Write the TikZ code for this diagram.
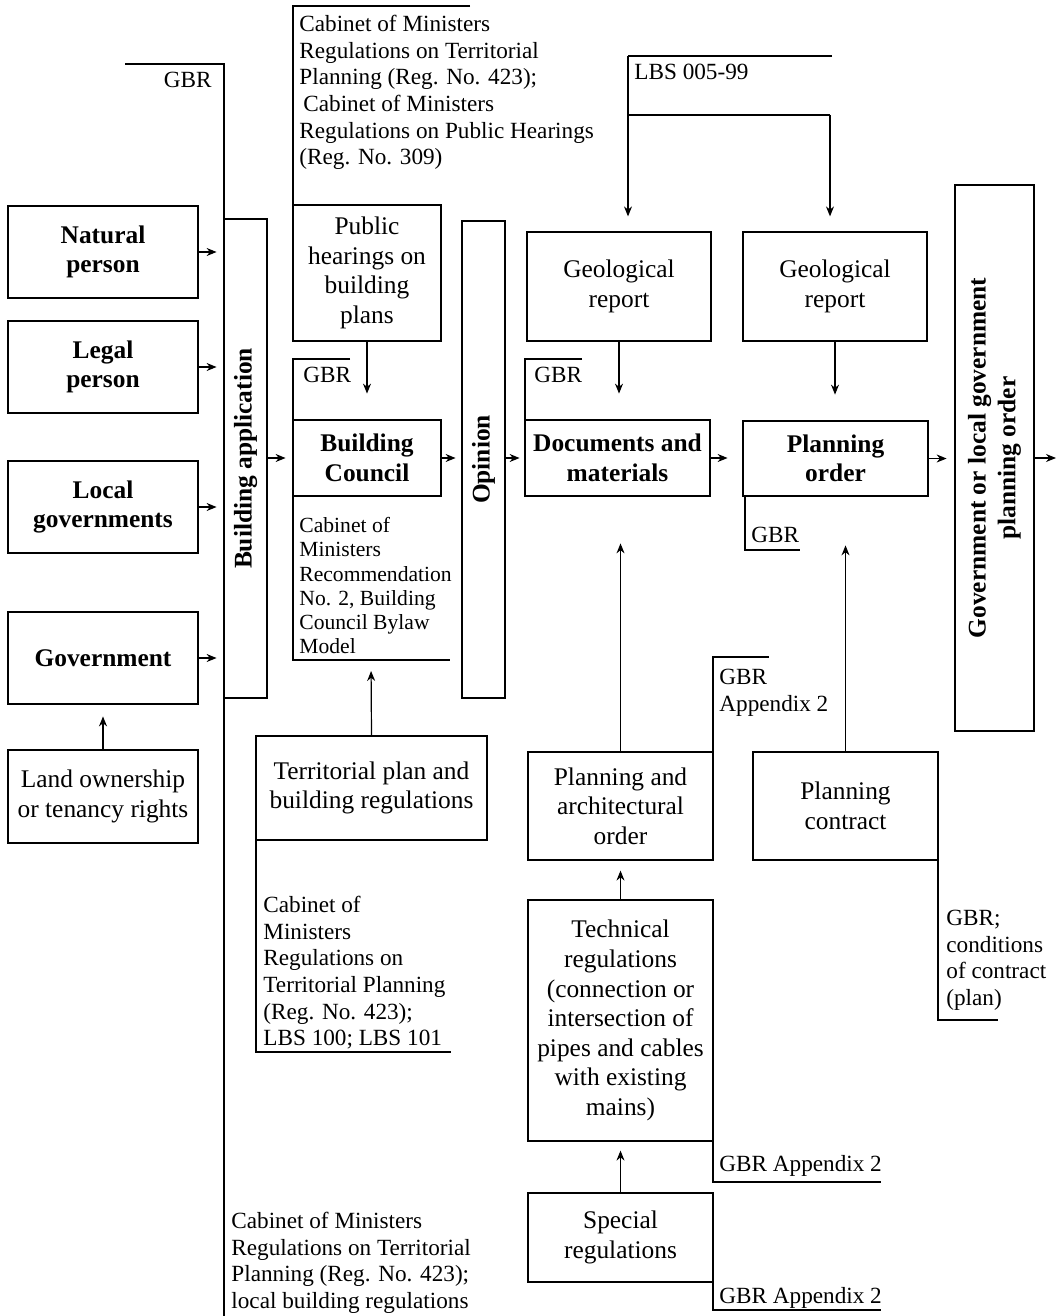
\documentclass[tikz,border=0pt]{standalone}
\usepackage{fontspec}
\setmainfont{Liberation Serif}
\usetikzlibrary{arrows.meta}
\begin{document}
\begin{tikzpicture}[x=0.5pt,y=-0.5pt,
  boxtext/.style={font=\fontsize{12.7}{14.8}\selectfont, align=center},
  thickbox/.style={draw, line width=1.4pt, inner sep=0pt, boxtext, font=\fontsize{12.7}{14.8}\selectfont\bfseries},
  thinbox/.style={draw, line width=0.6pt, inner sep=0pt, boxtext},
  note/.style={font=\fontsize{11.6}{13.3}\selectfont, align=left, inner sep=0pt, anchor=north west},
  rule/.style={line width=0.6pt},
  arr/.style={line width=0.6pt, -{Stealth[length=5pt,width=4pt]}}
]
\useasboundingbox (0,0) rectangle (1063,1316);

% left column
\node[thickbox, minimum width=95pt, minimum height=46pt] (nat) at (103,252) {Natural\\person};
\node[thickbox, minimum width=95pt, minimum height=46pt] (leg) at (103,367) {Legal\\person};
\node[thickbox, minimum width=95pt, minimum height=46pt] (loc) at (103,507) {Local\\governments};
\node[thickbox, minimum width=95pt, minimum height=46pt] (gov) at (103,658) {Government};
\node[thickbox, font=\fontsize{12.7}{14.8}\selectfont, minimum width=95pt, minimum height=46.5pt] (land) at (103,796.5) {Land ownership\\or tenancy rights};

% building application
\node[thickbox, minimum width=21.5pt, minimum height=239.5pt] (app) at (245.5,458.5) {};
\node[rotate=90, font=\fontsize{12.7}{14.8}\selectfont\bfseries, inner sep=0pt] (apptext) at (app.center) {Building application};

% building council column
\node[thinbox, minimum width=74pt, minimum height=68pt] (pub) at (367,273) {Public\\hearings on\\building\\plans};
\node[thickbox, minimum width=74pt, minimum height=38pt] (bc) at (367,458) {Building\\Council};

% opinion
\node[thickbox, minimum width=21.5pt, minimum height=238.5pt] (op) at (483.5,459.5) {};
\node[rotate=90, font=\fontsize{12.7}{14.8}\selectfont\bfseries, inner sep=0pt] (optext) at (op.center) {Opinion};

% territorial plan
\node[thinbox, minimum width=115.5pt, minimum height=52pt] (ter) at (371.5,788) {Territorial plan and\\building regulations};

% documents column
\node[thinbox, minimum width=92pt, minimum height=54.5pt] (geo1) at (619,286.5) {Geological\\report};
\node[thickbox, minimum width=92.5pt, minimum height=38pt] (doc) at (617.5,458) {Documents and\\materials};
\node[thinbox, minimum width=92.5pt, minimum height=54pt] (pao) at (620.5,806) {Planning and\\architectural\\order};
\node[thinbox, minimum width=92.5pt, minimum height=120.5pt] (tech) at (620.5,1020.5) {Technical\\regulations\\(connection or\\intersection of\\pipes and cables\\with existing\\mains)};
\node[thinbox, minimum width=92.5pt, minimum height=44.5pt] (spec) at (620.5,1237.5) {Special\\regulations};

% planning order column
\node[thinbox, minimum width=92pt, minimum height=54.5pt] (geo2) at (835,286.5) {Geological\\report};
\node[thickbox, minimum width=92.5pt, minimum height=37.5pt] (po) at (835.5,458.5) {Planning\\order};
\node[thinbox, minimum width=92.5pt, minimum height=54pt] (pc) at (845.5,806) {Planning\\contract};

% final box
\node[thickbox, minimum width=39.5pt, minimum height=273pt] (gvt) at (994.5,458) {};
\node[rotate=90, font=\fontsize{12.7}{14.8}\selectfont\bfseries, align=center, inner sep=0pt] (gvttext) at (gvt.center) {Government or local government\\planning order};

% coordinates
\coordinate (out) at (1056,458);
\coordinate (gbrA) at (125,64);
\coordinate (gbrB) at (224,64);
\coordinate (gbrC) at (224,1316);
\coordinate (cabA) at (470,6);
\coordinate (cabB) at (293,6);
\coordinate (bcgA) at (350,359);
\coordinate (bcgB) at (293,359);
\coordinate (bcnA) at (293,660);
\coordinate (bcnB) at (450,660);
\coordinate (bcnM) at (371,660);
\coordinate (docgA) at (582,359);
\coordinate (docgB) at (525,359);
\coordinate (lbsA) at (832,56);
\coordinate (lbsB) at (628,56);
\coordinate (lbsC) at (628,115);
\coordinate (lbsD) at (830,115);
\coordinate (pogA) at (745,550);
\coordinate (pogB) at (800,550);
\coordinate (paogA) at (713,657);
\coordinate (paogB) at (769,657);
\coordinate (pcnA) at (938,1020);
\coordinate (pcnB) at (998,1020);
\coordinate (tergA) at (256,1052);
\coordinate (tergB) at (451,1052);
\coordinate (techgA) at (713,1182);
\coordinate (techgB) at (881,1182);
\coordinate (specgA) at (713,1310);
\coordinate (specgB) at (881,1310);

% arrows
\foreach \n in {nat,leg,loc,gov}
  \draw[arr, shorten >=3pt] (\n.east) -- (\n.east -| app.west);
\draw[arr, shorten >=5.5pt] (land.north) -- (gov.south);
\draw[arr, shorten >=3pt] (app.east |- bc.west) -- (bc.west);
\draw[arr, shorten >=12.5pt] (pub.south) -- (bc.north);
\draw[arr, shorten >=2.5pt] (bc.east) -- (bc.east -| op.west);
\draw[arr, shorten >=2pt] (op.east |- doc.west) -- (doc.west);
\draw[arr, shorten >=12.5pt] (geo1.south) -- (geo1.south |- doc.north);
\draw[arr, shorten >=12.5pt] (geo2.south) -- (geo2.south |- po.north);
\draw[arr, shorten >=7pt] (doc.east) -- (doc.east -| po.west);
\draw[arr, shorten >=3.5pt] (po.east) -- (po.east -| gvt.west);
\draw[arr] (gvt.east |- out) -- (out);
\draw[arr, shorten >=5.5pt] (ter.north) -- (bcnM);
\draw[arr, shorten >=23pt] (pao.north) -- (pao.north |- doc.south);
\draw[arr, shorten >=24pt] (pc.north) -- (pc.north |- po.south);
\draw[arr, shorten >=5pt] (tech.north) -- (pao.south);
\draw[arr, shorten >=4.5pt] (spec.north) -- (tech.south);
\draw[rule] (lbsA) -- (lbsB);
\draw[arr, shorten >=7.5pt] (lbsB) -- (lbsB |- geo1.north);
\draw[rule] (lbsC) -- (lbsD);
\draw[arr, shorten >=7.5pt] (lbsD) -- (lbsD |- geo2.north);

% brackets
\draw[rule] (gbrA) -- (gbrB) -- (gbrC);
\draw[rule] (cabA) -- (cabB) -- (cabB |- pub.north);
\draw[rule] (bcgA) -- (bcgB) -- (bcgB |- bc.north);
\draw[rule] (bcnA |- bc.south) -- (bcnA) -- (bcnB);
\draw[rule] (docgA) -- (docgB) -- (docgB |- doc.north);
\draw[rule] (pogA |- po.south) -- (pogA) -- (pogB);
\draw[rule] (paogA |- pao.north) -- (paogA) -- (paogB);
\draw[rule] (pcnA |- pc.south) -- (pcnA) -- (pcnB);
\draw[rule] (tergA |- ter.south) -- (tergA) -- (tergB);
\draw[rule] (techgA |- tech.south) -- (techgA) -- (techgB);
\draw[rule] (specgA |- spec.south) -- (specgA) -- (specgB);

% notes
\node[note, anchor=north east] (n1) at (212,72) {GBR};
\node[note] (n2) at (299,15) {Cabinet of Ministers\\Regulations on Territorial\\Planning (Reg. No. 423);\\\hspace{2pt}Cabinet of Ministers\\Regulations on Public Hearings\\(Reg. No. 309)};
\node[note] (n3) at (303,367) {GBR};
\node[note, font=\fontsize{10.8}{12.1}\selectfont] (n4) at (299,517) {Cabinet of\\Ministers\\Recommendation\\No. 2, Building\\Council Bylaw\\Model};
\node[note] (n5) at (534,367) {GBR};
\node[note] (n6) at (634,64) {LBS 005-99};
\node[note] (n7) at (751,527) {GBR};
\node[note] (n8) at (719,669) {GBR\\Appendix 2};
\node[note] (n9) at (946,910) {GBR;\\conditions\\of contract\\(plan)};
\node[note] (n10) at (263,896) {Cabinet of\\Ministers\\Regulations on\\Territorial Planning\\(Reg. No. 423);\\LBS 100; LBS 101};
\node[note] (n11) at (719,1155) {GBR Appendix 2};
\node[note] (n12) at (719,1287) {GBR Appendix 2};
\node[note] (n13) at (231,1212) {Cabinet of Ministers\\Regulations on Territorial\\Planning (Reg. No. 423);\\local building regulations};
\end{tikzpicture}
\end{document}
